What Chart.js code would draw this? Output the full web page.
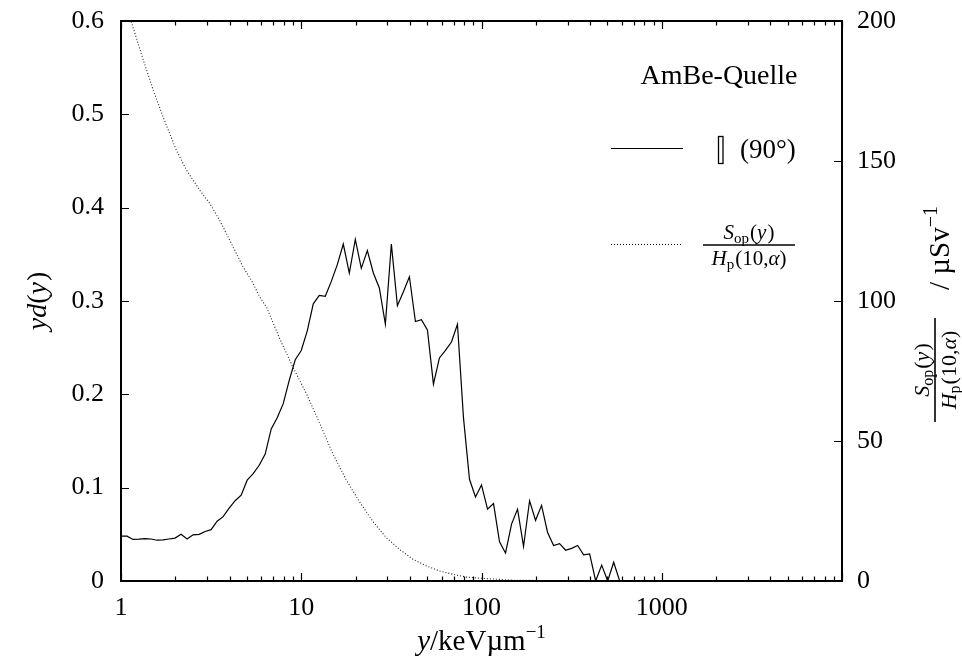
<!DOCTYPE html>
<html>
<head>
<meta charset="utf-8">
<title>AmBe-Quelle</title>
<script src="https://cdn.jsdelivr.net/npm/chart.js@4.4.0/dist/chart.umd.min.js"></script>
<style>
    html, body { margin: 0; padding: 0; background: #fff; }
    #chart { display: block; }
</style>
</head>
<body>
<canvas id="chart" width="962" height="667"></canvas>
<script>
"use strict";

// lineal energy y in keV/µm (bin centres, 30 per decade)
const yBins = [
    1, 1.080, 1.166, 1.259, 1.359, 1.468, 1.585, 1.711, 1.848, 1.995,
    2.154, 2.326, 2.512, 2.712, 2.929, 3.162, 3.415, 3.687, 3.981, 4.299,
    4.642, 5.012, 5.412, 5.843, 6.310, 6.813, 7.356, 7.943, 8.577, 9.261,
    10, 10.80, 11.66, 12.59, 13.59, 14.68, 15.85, 17.11, 18.48, 19.95,
    21.54, 23.26, 25.12, 27.12, 29.29, 31.62, 34.15, 36.87, 39.81, 42.99,
    46.42, 50.12, 54.12, 58.43, 63.10, 68.13, 73.56, 79.43, 85.77, 92.61,
    100, 108.0, 116.6, 125.9, 135.9, 146.8, 158.5, 171.1, 184.8, 199.5,
    215.4, 232.6, 251.2, 271.2, 292.9, 316.2, 341.5, 368.7, 398.1, 429.9,
    464.2, 501.2, 541.2, 584.3
];

// y d(y), parallel (90°)
const ydyValues = [
    0.048, 0.048, 0.0445, 0.0448, 0.0455, 0.045, 0.0437, 0.044, 0.045, 0.046,
    0.050, 0.045, 0.0495, 0.050, 0.053, 0.055, 0.064, 0.069, 0.078, 0.086,
    0.092, 0.108, 0.115, 0.124, 0.136, 0.163, 0.175, 0.19, 0.215, 0.237,
    0.247, 0.268, 0.297, 0.306, 0.305, 0.321, 0.339, 0.361, 0.33, 0.366,
    0.335, 0.354, 0.33, 0.314, 0.275, 0.361, 0.295, 0.31, 0.326, 0.278,
    0.28, 0.269, 0.211, 0.239, 0.247, 0.256, 0.275, 0.175, 0.109, 0.09,
    0.103, 0.077, 0.083, 0.042, 0.030, 0.061, 0.077, 0.037, 0.086, 0.065,
    0.081, 0.052, 0.038, 0.040, 0.033, 0.035, 0.038, 0.028, 0.029, 0.0,
    0.017, 0.0, 0.020, 0.0
];

// S_op(y) / H_p(10,alpha) in µSv^-1 (right axis)
const sopX = [
    1, 1.15, 1.33, 1.51, 1.71, 2.03, 2.31, 2.74, 3.11, 3.53,
    4.02, 4.76, 5.3, 5.89, 6.42, 7.6, 9.0, 10.7, 12.7, 15.0,
    17.8, 21.1, 25.0, 29.6, 35.1, 41.6, 49.4, 58.5, 69.3, 82.3,
    97.5, 148, 260, 450
];
const sopValues = [
    211, 199, 186, 175.3, 165.8, 153.8, 146.7, 139.5, 134.8, 128.8,
    121.6, 112.1, 107.3, 101.4, 97.8, 86.5, 76.3, 66.8, 56.1, 45.3,
    36.0, 28.2, 21.2, 15.5, 11.3, 7.8, 5.4, 3.6, 2.4, 1.4,
    1.0, 0.3, 0.1, 0.05
];

const xTickLabels = [1, 10, 100, 1000];
const yTicks = [0, 0.1, 0.2, 0.3, 0.4, 0.5, 0.6];
const y2Ticks = [0, 50, 100, 150, 200];

const SERIF = "'Liberation Serif', 'Times New Roman', serif";

function runFont(r) {
    return (r.italic ? "italic " : "") + r.size + "px " + SERIF;
}

function runsWidth(ctx, runs) {
    let w = 0;
    runs.forEach((r) => {
        ctx.font = runFont(r);
        w += ctx.measureText(r.t).width + (r.kern || 0);
    });
    return w;
}

// draws a row of text pieces (italic / sub / superscript) on one baseline
function drawRuns(ctx, runs, x, y, align) {
    let cx = align === "center" ? x - runsWidth(ctx, runs) / 2 : x;
    ctx.textAlign = "left";
    ctx.textBaseline = "alphabetic";
    runs.forEach((r) => {
        ctx.font = runFont(r);
        ctx.fillText(r.t, cx, y + (r.dy || 0));
        cx += ctx.measureText(r.t).width + (r.kern || 0);
    });
}

function fracRuns(size) {
    let sub = Math.round(size * 0.72);
    return {
        num: [
            {t: "S", italic: true, size: size},
            {t: "op", size: sub, dy: 4, kern: 1},
            {t: "(", size: size},
            {t: "y", italic: true, size: size, kern: 1},
            {t: ")", size: size}
        ],
        den: [
            {t: "H", italic: true, size: size},
            {t: "p", size: sub, dy: 4, kern: 1},
            {t: "(10,", size: size},
            {t: "α", italic: true, size: size},
            {t: ")", size: size}
        ]
    };
}

function drawFraction(ctx, cx, barY, barW, size) {
    let f = fracRuns(size);
    drawRuns(ctx, f.num, cx, barY - 6, "center");
    drawRuns(ctx, f.den, cx, barY + size - 1, "center");
    ctx.lineWidth = 1.6;
    ctx.beginPath();
    ctx.moveTo(cx - barW / 2, barY);
    ctx.lineTo(cx + barW / 2, barY);
    ctx.stroke();
}

const framePlugin = {
    id: "frame",
    afterDraw(chart) {
        const {ctx, chartArea: a, scales} = chart;
        ctx.save();
        ctx.strokeStyle = "#000";
        ctx.fillStyle = "#000";

        // inward ticks
        ctx.lineWidth = 1.2;
        ctx.beginPath();
        for (let k = 0; k <= 4; k++) {
            for (let d = 1; d <= 9; d++) {
                let v = d * Math.pow(10, k);
                if (v > 10000) break;
                let px = Math.round(scales.x.getPixelForValue(v)) + 0.5;
                let len = d === 1 ? 8 : 4.5;
                ctx.moveTo(px, a.bottom);
                ctx.lineTo(px, a.bottom - len);
                ctx.moveTo(px, a.top);
                ctx.lineTo(px, a.top + len);
            }
        }
        yTicks.forEach((v) => {
            let py = Math.round(scales.y.getPixelForValue(v)) + 0.5;
            ctx.moveTo(a.left, py);
            ctx.lineTo(a.left + 8, py);
        });
        y2Ticks.forEach((v) => {
            let py = Math.round(scales.y2.getPixelForValue(v)) + 0.5;
            ctx.moveTo(a.right, py);
            ctx.lineTo(a.right - 8, py);
        });
        ctx.stroke();

        ctx.lineWidth = 2;
        ctx.strokeRect(a.left, a.top, a.right - a.left, a.bottom - a.top);

        // axis titles
        drawRuns(ctx, [
            {t: "y", italic: true, size: 29},
            {t: "/keVµm", size: 29},
            {t: "−1", size: 19, dy: -12}
        ], (a.left + a.right) / 2, 650, "center");

        ctx.save();
        ctx.translate(46, (a.top + a.bottom) / 2);
        ctx.rotate(-Math.PI / 2);
        drawRuns(ctx, [
            {t: "y", italic: true, size: 28},
            {t: "d", italic: true, size: 28},
            {t: "(", size: 28},
            {t: "y", italic: true, size: 28, kern: 1},
            {t: ")", size: 28}
        ], 0, 0, "center");
        ctx.restore();

        ctx.save();
        ctx.translate(938, 300);
        ctx.rotate(-Math.PI / 2);
        drawFraction(ctx, -70, -3, 104, 22);
        drawRuns(ctx, [
            {t: "/ ", size: 29},
            {t: "µSv", size: 29},
            {t: "−1", size: 20, dy: -12}
        ], 10, 11, "left");
        ctx.restore();

        // key
        drawRuns(ctx, [{t: "AmBe-Quelle", size: 28}], 719, 84, "center");

        ctx.lineWidth = 1.2;
        ctx.beginPath();
        ctx.moveTo(611, 148.5);
        ctx.lineTo(683, 148.5);
        ctx.stroke();
        ctx.lineWidth = 1.3;
        ctx.strokeRect(718.5, 136.5, 4.5, 27);
        drawRuns(ctx, [{t: "(90°)", size: 27}], 740, 158, "left");

        ctx.lineWidth = 1.1;
        ctx.setLineDash([1, 2]);
        ctx.beginPath();
        ctx.moveTo(611, 244.5);
        ctx.lineTo(683, 244.5);
        ctx.stroke();
        ctx.setLineDash([]);
        drawFraction(ctx, 749, 245, 92, 21);

        ctx.restore();
    }
};

const tickFont = {family: SERIF, size: 26};

function noEdgePadding(s) {
    s.paddingTop = 0;
    s.paddingBottom = 0;
    s.paddingLeft = 0;
    s.paddingRight = 0;
}

new Chart(document.getElementById("chart"), {
    type: "line",
    data: {
        datasets: [{
            label: "∥ (90°)",
            data: yBins.map((x, i) => ({x: x, y: ydyValues[i]})),
            yAxisID: "y",
            borderColor: "#000",
            borderWidth: 1.2,
            pointRadius: 0,
            tension: 0
        }, {
            label: "Sop(y)/Hp(10,α)",
            data: sopX.map((x, i) => ({x: x, y: sopValues[i]})),
            yAxisID: "y2",
            borderColor: "#222",
            borderWidth: 1.1,
            borderDash: [1, 2],
            pointRadius: 0,
            tension: 0
        }]
    },
    options: {
        responsive: false,
        animation: false,
        layout: {padding: {top: 21, left: 0, right: 0, bottom: 0}},
        plugins: {
            legend: {display: false},
            tooltip: {enabled: false}
        },
        scales: {
            x: {
                type: "logarithmic",
                min: 1,
                max: 10000,
                grid: {display: false, drawTicks: false},
                border: {display: false},
                afterBuildTicks: (s) => {
                    s.ticks = xTickLabels.map((v) => ({value: v}));
                },
                afterFit: (s) => {
                    s.height = 86;
                    noEdgePadding(s);
                },
                ticks: {
                    autoSkip: false,
                    maxRotation: 0,
                    padding: 12,
                    color: "#000",
                    font: tickFont,
                    callback: (v) => String(v)
                }
            },
            y: {
                position: "left",
                min: 0,
                max: 0.6,
                grid: {display: false, drawTicks: false},
                border: {display: false},
                afterBuildTicks: (s) => {
                    s.ticks = yTicks.map((v) => ({value: v}));
                },
                afterFit: (s) => {
                    s.width = 121;
                    noEdgePadding(s);
                },
                ticks: {
                    padding: 17,
                    color: "#000",
                    font: tickFont,
                    callback: (v) => String(v)
                }
            },
            y2: {
                position: "right",
                min: 0,
                max: 200,
                grid: {display: false, drawTicks: false},
                border: {display: false},
                afterBuildTicks: (s) => {
                    s.ticks = y2Ticks.map((v) => ({value: v}));
                },
                afterFit: (s) => {
                    s.width = 120;
                    noEdgePadding(s);
                },
                ticks: {
                    padding: 15,
                    color: "#000",
                    font: tickFont,
                    callback: (v) => String(v)
                }
            }
        }
    },
    plugins: [framePlugin]
});
</script>
</body>
</html>
